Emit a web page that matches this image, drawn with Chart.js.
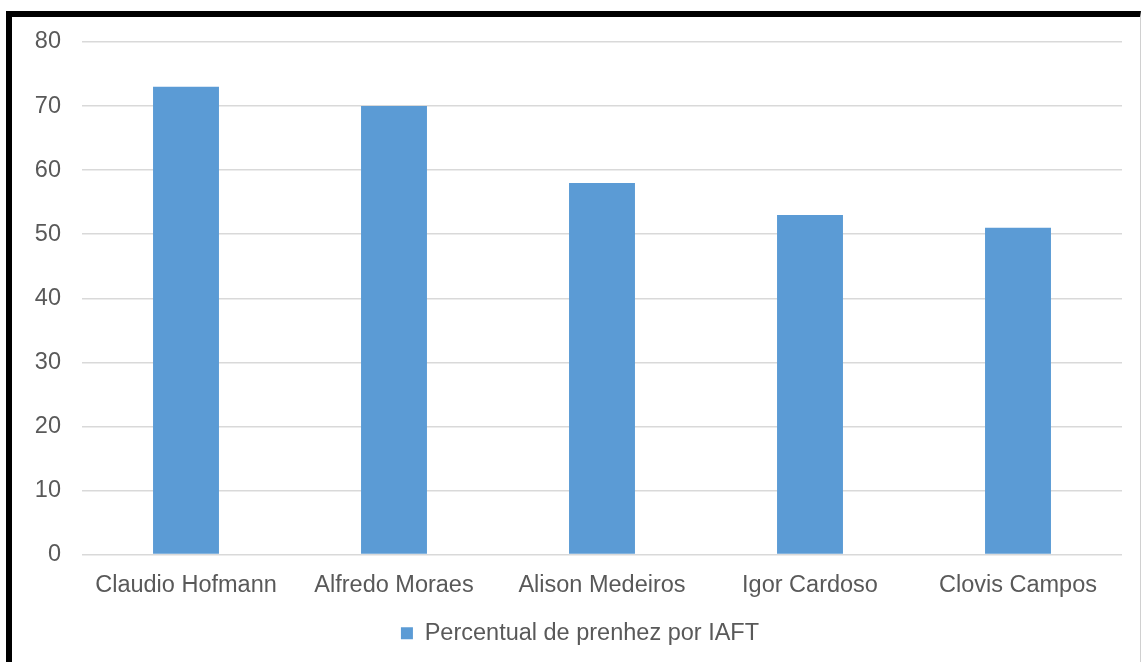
<!DOCTYPE html>
<html>
<head>
<meta charset="utf-8">
<script src="https://cdn.jsdelivr.net/npm/chart.js@4/dist/chart.umd.min.js"></script>
<style>
    html, body { margin: 0; padding: 0; background: #fff; }
    #wrap { position: relative; width: 1141px; height: 662px; overflow: hidden; }
    #frame {
        position: absolute; left: 6px; top: 11px; right: 0; bottom: -10px;
        border-top: 6px solid #000; border-left: 6px solid #000;
        border-right: 1px solid #d0d0d0;
    }
    canvas { position: absolute; left: 0; top: 0; }
</style>
</head>
<body>
<div id="wrap">
    <div id="frame"></div>
    <canvas id="prenhezChart" width="1141" height="662"></canvas>
</div>
<script>
// Inseminadores e taxa de prenhez
const categories = ['Claudio Hofmann', 'Alfredo Moraes', 'Alison Medeiros', 'Igor Cardoso', 'Clovis Campos'];
const prenhezValues = [73, 70, 58, 53, 51];
const seriesLabel = 'Percentual de prenhez por IAFT';
const yTicks = [0, 10, 20, 30, 40, 50, 60, 70, 80];

// centre the legend under the plot area instead of the whole canvas
const legendShift = {
    id: 'legendShift',
    afterLayout(chart) {
        const lg = chart.legend;
        if (!lg) return;
        lg.left += 19;
        lg.right += 19;
    }
};

function initChart() {
    const ctx = document.getElementById('prenhezChart').getContext('2d');
    Chart.defaults.font.family = '"Liberation Sans", Arial, sans-serif';
    Chart.defaults.color = '#595959';

    new Chart(ctx, {
        type: 'bar',
        data: {
            labels: categories,
            datasets: [{
                label: seriesLabel,
                data: prenhezValues,
                backgroundColor: '#5B9BD5',
                borderWidth: 0,
                categoryPercentage: 1.0,
                barPercentage: 0.317
            }]
        },
        options: {
            responsive: false,
            animation: false,
            layout: { padding: { top: 42, right: 19, left: 0, bottom: 7 } },
            plugins: {
                title: { display: false },
                tooltip: { enabled: false },
                legend: {
                    position: 'bottom',
                    labels: {
                        boxWidth: 12,
                        boxHeight: 12,
                        padding: 10,
                        color: '#595959',
                        font: { size: 23.5 }
                    }
                }
            },
            scales: {
                x: {
                    grid: { display: false, drawTicks: false },
                    border: { display: false },
                    ticks: { color: '#595959', font: { size: 23.5 }, padding: 17, maxRotation: 0 },
                    afterFit: (scale) => { scale.height = 57; }
                },
                y: {
                    min: 0,
                    max: 80,
                    afterBuildTicks: (scale) => { scale.ticks = yTicks.map(v => ({ value: v })); },
                    grid: { color: '#D9D9D9', lineWidth: 1.5, drawTicks: false },
                    border: { display: false },
                    ticks: { color: '#595959', font: { size: 23.5 }, padding: 21 },
                    afterFit: (scale) => { scale.width = 82; }
                }
            }
        },
        plugins: [legendShift]
    });
}

window.addEventListener('load', initChart);
</script>
</body>
</html>
